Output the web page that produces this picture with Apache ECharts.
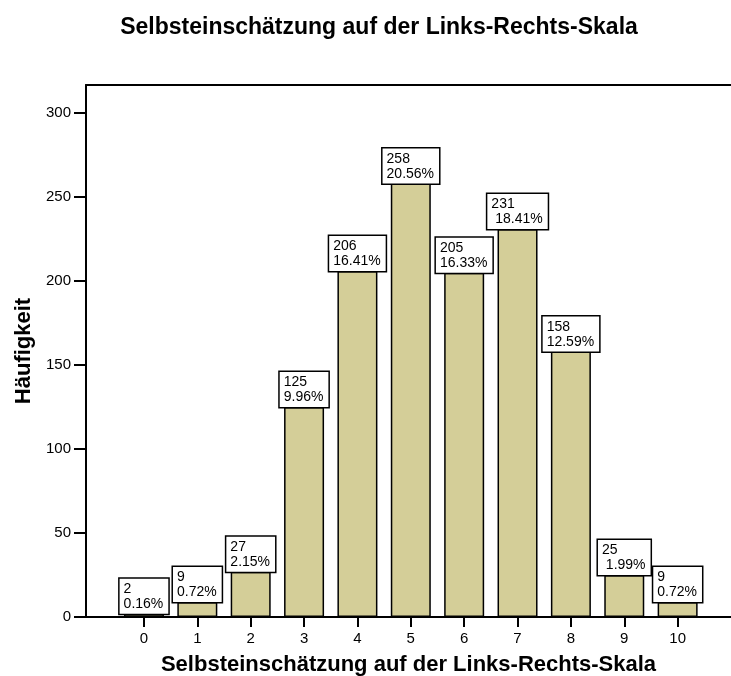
<!DOCTYPE html>
<html>
<head>
<meta charset="utf-8">
<script src="https://cdn.jsdelivr.net/npm/echarts@6/dist/echarts.min.js"></script>
<style>
html,body{margin:0;padding:0;background:#fff;}
#main{width:731px;height:676px;}
</style>
</head>
<body>
<div id="main"></div>
<script>
// Selbsteinschätzung 0..10, Häufigkeit
var categories = [0, 1, 2, 3, 4, 5, 6, 7, 8, 9, 10];
var counts = [2, 9, 27, 125, 206, 258, 205, 231, 158, 25, 9];
var percents = ['0.16%', '0.72%', '2.15%', '9.96%', '16.41%', '20.56%', '16.33%', ' 18.41%', '12.59%', ' 1.99%', '0.72%'];
var yTicks = [0, 50, 100, 150, 200, 250, 300];

var chartDom = document.getElementById('main');
var myChart = echarts.init(chartDom);
var option;

var fontFam = 'Liberation Sans, Arial, sans-serif';

option = {
    animation: false,
    title: {
        text: 'Selbsteinschätzung auf der Links-Rechts-Skala',
        left: 374,
        top: 11,
        textAlign: 'center',
        textStyle: {fontFamily: fontFam, fontSize: 23, fontWeight: 'bold', color: '#000'}
    },
    grid: {
        left: 86,
        right: 0,
        top: 85,
        bottom: 59,
        outerBoundsMode: 'none'
    },
    xAxis: [{
        type: 'value',
        min: -1.086,
        max: 11,
        name: 'Selbsteinschätzung auf der Links-Rechts-Skala',
        nameLocation: 'middle',
        nameGap: 37,
        nameTextStyle: {fontFamily: fontFam, fontSize: 22, fontWeight: 'bold', color: '#000'},
        splitLine: {show: false},
        axisLine: {onZero: false, lineStyle: {color: '#000', width: 2}},
        axisTick: {length: 10, customValues: categories, lineStyle: {color: '#000', width: 2}},
        axisLabel: {
            customValues: categories,
            margin: 14,
            fontFamily: fontFam,
            fontSize: 15,
            color: '#000'
        }
    }, {
        // obere Rahmenlinie
        type: 'value',
        position: 'top',
        min: -1.086,
        max: 11,
        splitLine: {show: false},
        axisLine: {show: true, onZero: false, lineStyle: {color: '#000', width: 2}},
        axisTick: {show: false},
        axisLabel: {show: false}
    }],
    yAxis: {
        type: 'value',
        min: 0,
        max: 316.7,
        name: 'Häufigkeit',
        nameLocation: 'middle',
        nameGap: 40,
        nameTextStyle: {fontFamily: fontFam, fontSize: 22, fontWeight: 'bold', color: '#000'},
        splitLine: {show: false},
        axisLine: {show: true, onZero: false, lineStyle: {color: '#000', width: 2}},
        axisTick: {show: true, length: 12, customValues: yTicks, lineStyle: {color: '#000', width: 2}},
        axisLabel: {
            customValues: yTicks,
            margin: 15,
            fontFamily: fontFam,
            fontSize: 15,
            color: '#000'
        }
    },
    series: [{
        type: 'bar',
        xAxisIndex: 0,
        barWidth: 40,
        data: categories.map(function (c, i) { return [c, counts[i]]; }),
        itemStyle: {
            color: '#d4ce98',
            borderColor: '#000',
            borderWidth: 1.5
        },
        label: {
            show: true,
            position: 'top',
            distance: 0,
            backgroundColor: '#fff',
            borderColor: '#000',
            borderWidth: 1.5,
            padding: [3, 5, 2, 4],
            formatter: function (p) {
                return '{t|' + counts[p.dataIndex] + '}\n{t|' + percents[p.dataIndex] + '}';
            },
            rich: {
                t: {
                    width: '100%',
                    align: 'left',
                    fontFamily: fontFam,
                    fontSize: 14,
                    lineHeight: 15,
                    color: '#000'
                }
            }
        }
    }]
};

option && myChart.setOption(option);
</script>
</body>
</html>
